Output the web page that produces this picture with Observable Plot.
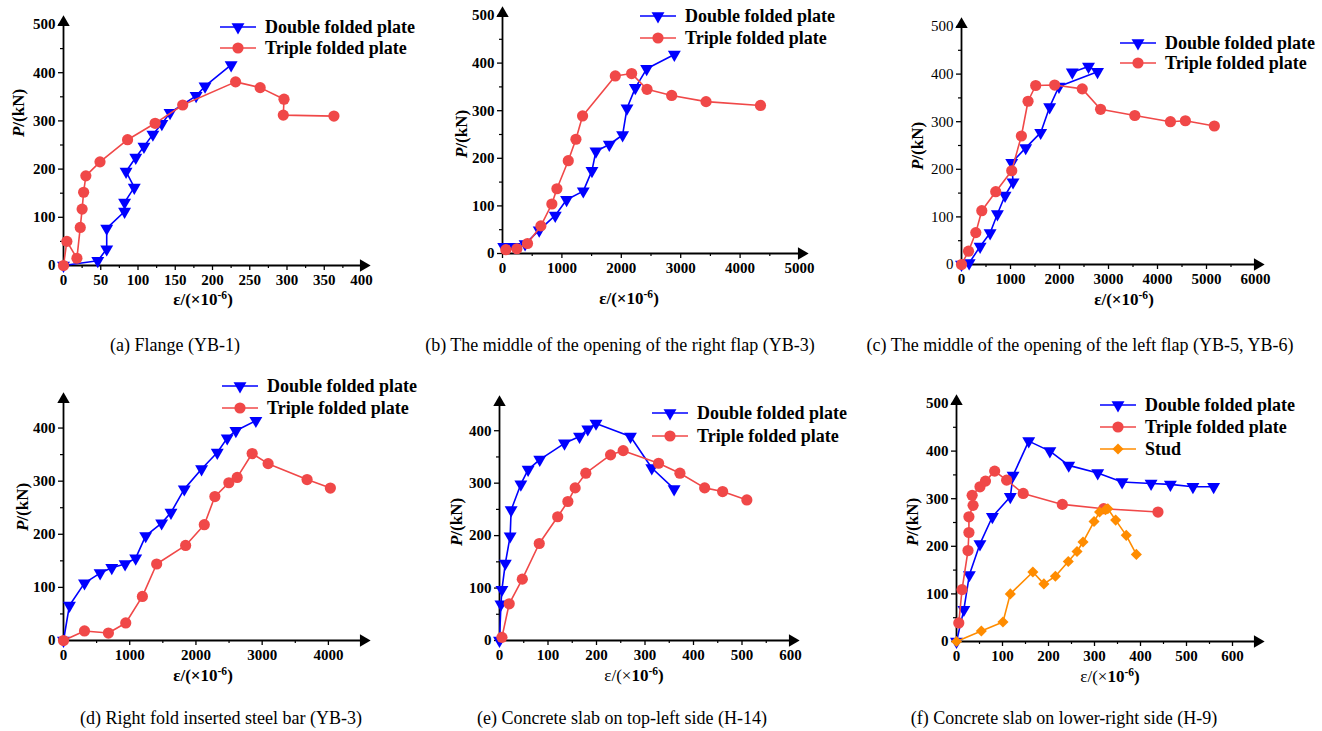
<!DOCTYPE html>
<html><head><meta charset="utf-8">
<script src="https://cdn.jsdelivr.net/npm/d3@7"></script>
<script src="https://cdn.jsdelivr.net/npm/@observablehq/plot@0.6"></script>
<style>
html,body{margin:0;padding:0;background:#fff;overflow:hidden;}
#root{position:relative;width:1322px;height:731px;font-family:"Liberation Serif","Times New Roman",Times,serif;color:#000;}
.box{position:absolute;}
.ylab{position:absolute;font-weight:bold;font-size:17px;white-space:nowrap;transform:translate(-50%,-50%) rotate(-90deg);}
.xlab{position:absolute;font-weight:bold;font-size:17px;white-space:nowrap;transform:translate(-50%,-50%);line-height:18px;}
.xlab sup{font-size:0.68em;vertical-align:0.5em;line-height:0;}
.cap{position:absolute;font-size:18px;white-space:nowrap;transform:translate(-50%,-50%);}
.leg{position:absolute;display:flex;align-items:center;height:24px;font-weight:bold;font-size:18px;white-space:nowrap;}
.leg svg{display:block;margin-right:9px;}
svg text{font-family:"Liberation Serif","Times New Roman",Times,serif;}
</style></head><body><div id="root"></div><script>
// ---------- data ----------
const seriesNames = ["Double folded plate", "Triple folded plate", "Stud"];
const captions = [
  "(a) Flange (YB-1)",
  "(b) The middle of the opening of the right flap (YB-3)",
  "(c) The middle of the opening of the left flap (YB-5, YB-6)",
  "(d) Right fold inserted steel bar (YB-3)",
  "(e) Concrete slab on top-left side (H-14)",
  "(f) Concrete slab on lower-right side (H-9)"
];

// (a)
const aDoubleX = [0, 46, 58, 58, 82, 82, 95, 84, 97, 108, 120, 132, 143, 178, 190, 225];
const aDoubleY = [0, 10, 34, 77, 112, 131, 162, 195, 224, 247, 272, 294, 317, 352, 372, 416];
const aTripleX = [0, 4.5, 18, 22.5, 25, 27, 30, 49, 86, 123, 160, 231, 264, 296, 295, 363];
const aTripleY = [0, 50, 15, 79, 117, 152, 186, 215, 261, 295, 333, 381, 369, 345, 312, 310];
// (b)
const bDoubleX = [20, 200, 380, 618, 888, 1079, 1360, 1506, 1573, 1798, 2022, 2096, 2236, 2427, 2893];
const bDoubleY = [14, 14, 20, 49, 80, 113, 131, 174, 215, 229, 249, 305, 348, 388, 418];
const bTripleX = [56, 242, 421, 646, 831, 916, 1107, 1236, 1348, 1899, 2174, 2433, 2848, 3427, 4343];
const bTripleY = [8, 10, 21, 58, 104, 136, 195, 240, 289, 373, 378, 345, 332, 319, 311];
// (c)
const cDoubleX = [0, 156, 380, 584, 733, 889, 1052, 1025, 1310, 1616, 1799, 1989, 2776, 2592, 2261];
const cDoubleY = [0, 3, 38, 66, 106, 145, 173, 214, 245, 277, 331, 374, 405, 416, 404];
const cTripleX = [0, 143, 292, 414, 699, 1025, 1222, 1358, 1514, 1901, 2464, 2838, 3537, 4264, 4569, 5160];
const cTripleY = [0, 28, 67, 113, 153, 197, 270, 343, 376, 377, 369, 326, 313, 300, 302, 291];
// (d)
const dDoubleX = [0, 90, 317, 553, 729, 930, 1090, 1241, 1482, 1623, 1824, 2085, 2322, 2472, 2603, 2905];
const dDoubleY = [0, 66, 108, 127, 137, 144, 155, 197, 221, 241, 285, 323, 354, 381, 395, 414];
const dTripleX = [0, 317, 678, 940, 1191, 1407, 1844, 2126, 2286, 2497, 2623, 2849, 3090, 3678, 4030];
const dTripleY = [0, 18, 14, 33, 83, 144, 179, 218, 271, 297, 307, 352, 333, 303, 287];
// (e)
const eDoubleX = [0, 3, 5, 12, 22, 24, 44, 59, 83, 134, 165, 182, 199, 270, 314, 360];
const eDoubleY = [0, 69, 97, 147, 199, 249, 298, 326, 345, 376, 389, 403, 414, 389, 329, 289];
const eTripleX = [5, 20, 47, 82, 120, 141, 156, 178, 229, 255, 328, 372, 423, 460, 510];
const eTripleY = [6, 70, 117, 185, 236, 265, 291, 319, 354, 362, 338, 319, 291, 284, 268];
// (f)
const fDoubleX = [0, 16, 28, 51, 78, 117, 123, 157, 203, 244, 307, 360, 423, 465, 514, 559];
const fDoubleY = [0, 67, 140, 205, 262, 304, 349, 421, 400, 370, 354, 335, 332, 330, 325, 325];
const fTripleX = [5, 12, 25, 27, 27, 36, 34, 51, 63, 83, 109, 145, 230, 320, 438];
const fTripleY = [39, 109, 191, 229, 262, 286, 307, 325, 337, 358, 339, 311, 288, 279, 272];
const fStudX = [0, 54, 101, 117, 166, 190, 215, 243, 262, 275, 299, 311, 324, 329, 346, 369, 391];
const fStudY = [0, 22, 41, 100, 146, 121, 137, 168, 189, 209, 252, 272, 277, 279, 255, 223, 183];

// tick labels
const ticksA = [0, 50, 100, 150, 200, 250, 300, 350, 400];
const ticksB = [0, 1000, 2000, 3000, 4000, 5000];
const ticksC = [0, 1000, 2000, 3000, 4000, 5000, 6000];
const ticksD = [0, 1000, 2000, 3000, 4000];
const ticksEF = [0, 100, 200, 300, 400, 500, 600];
const ticksP500 = [0, 100, 200, 300, 400, 500];
const ticksP400 = [0, 100, 200, 300, 400];

// ---------- style ----------
const FONT = '"Liberation Serif","Times New Roman",Times,serif';
const seriesColors = ["#0000ff", "#f04848", "#ff8c00"];
const seriesSymbols = ["triangle", "circle", "diamond2"];
const seriesRotate = [180, 0, 0];
const seriesR = [4.8, 5.6, 5.0];

const mids = t => t.slice(0, -1).map((v, i) => (v + t[i + 1]) / 2);
const plain = d => String(d);

const panels = [
  {box: [0, 0, 440, 365], org: [63, 265], end: [361, 24], xd: [0, 400], yd: [0, 500],
   xt: ticksA, yt: ticksP500, xm: mids(ticksA), ym: mids(ticksP500), yBold: true,
   series: [[aDoubleX, aDoubleY], [aTripleX, aTripleY]],
   ylab: [19, 113], xlab: [203, 300], xlabMixed: false, cap: [175, 345], leg: [220, 27, 21]},
  {box: [440, 0, 440, 365], org: [502, 253], end: [799, 15], xd: [0, 5000], yd: [0, 500],
   xt: ticksB, yt: ticksP500, xm: mids(ticksB), ym: mids(ticksP500), yBold: true,
   series: [[bDoubleX, bDoubleY], [bTripleX, bTripleY]],
   ylab: [462, 134], xlab: [629, 299], xlabMixed: false, cap: [620, 345], leg: [640, 16, 22]},
  {box: [880, 0, 442, 365], org: [961, 264], end: [1255, 26], xd: [0, 6000], yd: [0, 500],
   xt: ticksC, yt: ticksP500, xm: mids(ticksC), ym: mids(ticksP500), yBold: false,
   series: [[cDoubleX, cDoubleY], [cTripleX, cTripleY]],
   ylab: [918, 146], xlab: [1124, 300], xlabMixed: false, cap: [1080, 345], leg: [1120, 43, 20]},
  {box: [0, 365, 440, 366], org: [63, 640], end: [361, 401], xd: [0, 4500], yd: [0, 450],
   xt: ticksD, yt: ticksP400, xm: [500, 1500, 2500, 3500, 4500], ym: [50, 150, 250, 350, 450], yBold: true,
   series: [[dDoubleX, dDoubleY], [dTripleX, dTripleY]],
   ylab: [23, 507], xlab: [203, 676], xlabMixed: false, cap: [221, 718], leg: [222, 386, 22]},
  {box: [440, 365, 440, 366], org: [499, 640], end: [790, 404], xd: [0, 600], yd: [0, 450],
   xt: ticksEF, yt: ticksP400, xm: mids(ticksEF), ym: [50, 150, 250, 350, 450], yBold: true,
   series: [[eDoubleX, eDoubleY], [eTripleX, eTripleY]],
   ylab: [457, 522], xlab: [634, 676], xlabMixed: true, cap: [622, 718], leg: [652, 413, 23]},
  {box: [880, 365, 442, 366], org: [956, 641], end: [1255, 403], xd: [0, 650], yd: [0, 500],
   xt: ticksEF, yt: ticksP500, xm: mids(ticksEF), ym: mids(ticksP500), yBold: true,
   series: [[fDoubleX, fDoubleY], [fTripleX, fTripleY], [fStudX, fStudY]],
   ylab: [913, 522], xlab: [1110, 677], xlabMixed: true, cap: [1064, 718], leg: [1100, 405, 22]}
];

const root = document.getElementById("root");

function addDiv(cls, html, x, y) {
  const d = document.createElement("div");
  d.className = cls;
  d.innerHTML = html;
  d.style.left = x + "px";
  d.style.top = y + "px";
  root.appendChild(d);
  return d;
}

panels.forEach((p, pi) => {
  const [L, T, W, H] = p.box;
  const marks = [];
  marks.push(Plot.axisX(p.xm, {tickSize: 3, tickFormat: () => "", label: null, strokeWidth: 1.2}));
  marks.push(Plot.axisY(p.ym, {tickSize: 3, tickFormat: () => "", label: null, strokeWidth: 1.2}));
  marks.push(Plot.axisX(p.xt, {tickSize: 5, tickPadding: 4, tickFormat: plain, label: null, strokeWidth: 1.3,
    fontSize: 15, fontWeight: "bold", fill: "#000"}));
  marks.push(Plot.axisY(p.yt, {tickSize: 5, tickPadding: 3, tickFormat: plain, label: null, strokeWidth: 1.3,
    fontSize: 15, fontWeight: p.yBold ? "bold" : "normal", fill: "#000"}));
  marks.push(Plot.ruleY([p.yd[0]], {stroke: "#000", strokeWidth: 1.8}));
  marks.push(Plot.ruleX([p.xd[0]], {stroke: "#000", strokeWidth: 1.8}));
  marks.push(Plot.dot([{x: p.xd[1], y: p.yd[0]}], {x: "x", y: "y", symbol: "triangle", rotate: 90, r: 4.6, fill: "#000", dx: 2}));
  marks.push(Plot.dot([{x: p.xd[0], y: p.yd[1]}], {x: "x", y: "y", symbol: "triangle", r: 4.6, fill: "#000", dy: -2}));
  p.series.forEach(([xs, ys], si) => {
    const rows = xs.map((x, i) => ({x, y: ys[i]}));
    marks.push(Plot.line(rows, {x: "x", y: "y", stroke: seriesColors[si], strokeWidth: 1.6}));
    marks.push(Plot.dot(rows, {x: "x", y: "y", symbol: seriesSymbols[si], r: seriesR[si],
      rotate: seriesRotate[si], fill: seriesColors[si]}));
  });
  const svg = Plot.plot({
    width: W, height: H,
    marginLeft: p.org[0] - L, marginRight: L + W - p.end[0],
    marginTop: p.end[1] - T, marginBottom: T + H - p.org[1],
    x: {domain: p.xd, nice: false},
    y: {domain: p.yd, nice: false},
    style: {fontFamily: FONT, background: "transparent", overflow: "visible", color: "#000"},
    marks
  });
  const box = document.createElement("div");
  box.className = "box";
  box.style.left = L + "px"; box.style.top = T + "px";
  box.style.width = W + "px"; box.style.height = H + "px";
  box.appendChild(svg);
  root.appendChild(box);

  addDiv("ylab", '<i>P</i>/(kN)', p.ylab[0], p.ylab[1]);
  const xl = p.xlabMixed
    ? '<span style="font-weight:normal">ε/(×</span>10<sup>-6</sup>)'
    : 'ε/(×10<sup>-6</sup>)';
  addDiv("xlab", xl, p.xlab[0], p.xlab[1]);
  addDiv("cap", captions[pi], p.cap[0], p.cap[1]);

  p.series.forEach((s, si) => {
    const sym = d3.symbol(
      {triangle: d3.symbolTriangle, circle: d3.symbolCircle, diamond2: d3.symbolDiamond2}[seriesSymbols[si]],
      Math.PI * seriesR[si] * seriesR[si]
    )();
    const icon = `<svg width="36" height="24"><line x1="0" x2="36" y1="12" y2="12" stroke="${seriesColors[si]}" stroke-width="1.6"/>` +
      `<path d="${sym}" fill="${seriesColors[si]}" transform="translate(18,12) rotate(${seriesRotate[si]})"/></svg>`;
    addDiv("leg", icon + "<span>" + seriesNames[si] + "</span>", p.leg[0], p.leg[1] + si * p.leg[2] - 12);
  });
});
</script></body></html>
